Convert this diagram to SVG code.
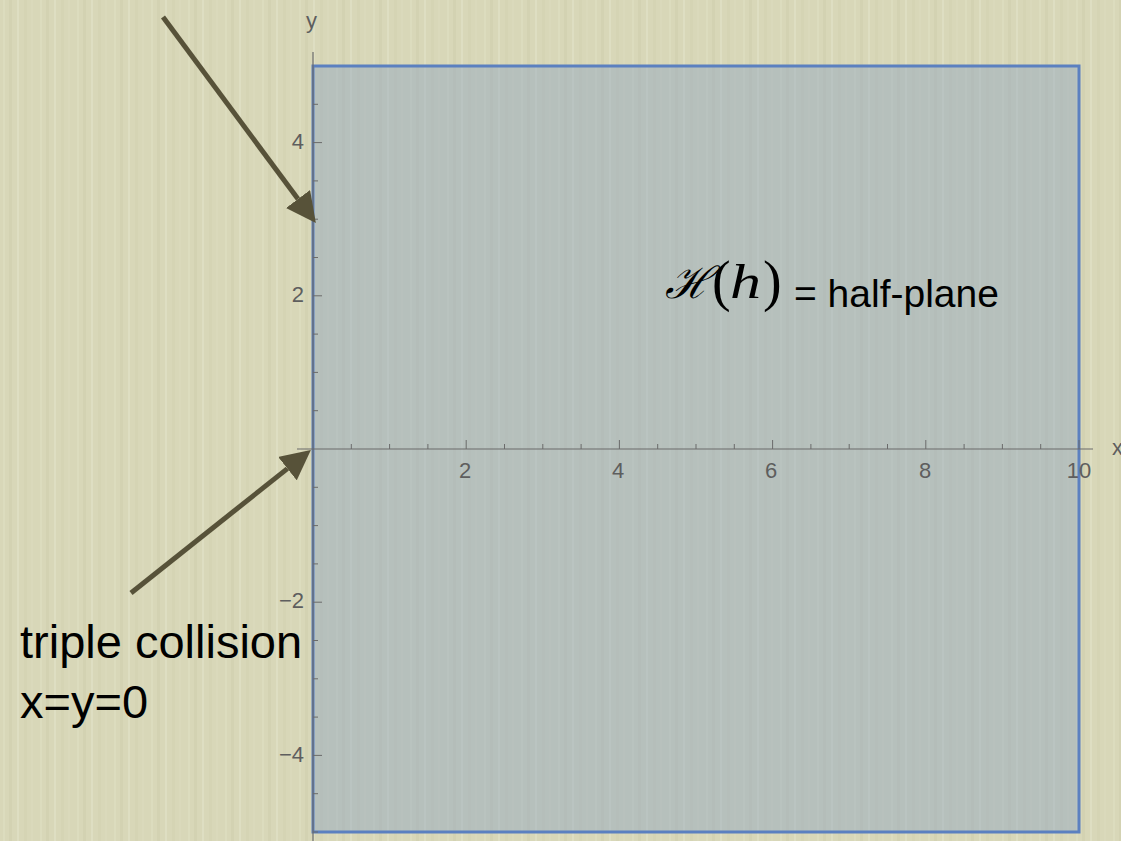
<svg xmlns="http://www.w3.org/2000/svg" width="1121" height="841" viewBox="0 0 1121 841">
<defs>
<pattern id="tex" x="0" y="0" width="37" height="841" patternUnits="userSpaceOnUse">
<rect width="37" height="841" fill="#d8d7b8"/>
<rect x="3" width="2" height="841" fill="#dcdcbe"/>
<rect x="9" width="3" height="841" fill="#d3d2b2"/>
<rect x="17" width="2" height="841" fill="#dedec2"/>
<rect x="24" width="3" height="841" fill="#d5d4b4"/>
<rect x="31" width="2" height="841" fill="#dad9bb"/>
</pattern>
<marker id="ah" markerUnits="userSpaceOnUse" markerWidth="30" markerHeight="30" refX="0" refY="13" orient="auto" viewBox="0 0 26 26">
<path d="M0,0 L26,13 L0,26 Z" fill="#575239"/>
</marker>
<style>
.tick{stroke:#6b6b6b;stroke-width:1;fill:none}
.axis{stroke:#6b6b6b;stroke-width:1.2;fill:none}
.tl{font-family:"Liberation Sans",Arial,sans-serif;font-size:22px;fill:#5e5e5e}
.lab{font-family:"Liberation Sans",Arial,sans-serif;fill:#000}
.m{font-family:"Liberation Serif","Times New Roman",serif;fill:#000}
.arr{stroke:#575239;stroke-width:5;fill:none;marker-end:url(#ah)}
</style>
</defs>
<rect width="1121" height="841" fill="url(#tex)"/>
<g id="half-plane">
<rect x="313" y="66" width="766" height="766" fill="#8ea3c0" fill-opacity="0.45" stroke="#5b80c0" stroke-width="3"/>
</g>
<g id="axes">
<line class="axis" x1="297" y1="449" x2="1093" y2="449"/>
<line class="axis" x1="313" y1="52" x2="313" y2="841"/>
<path class="tick" d="M351.3,449v-5M389.6,449v-5M427.9,449v-5M466.2,449v-9M504.5,449v-5M542.8,449v-5M581.1,449v-5M619.4,449v-9M657.7,449v-5M696,449v-5M734.3,449v-5M772.6,449v-9M810.9,449v-5M849.2,449v-5M887.5,449v-5M925.8,449v-9M964.1,449v-5M1002.4,449v-5M1040.7,449v-5M1079,449v-9"/>
<path class="tick" d="M313,104.3h5M313,142.6h9M313,180.9h5M313,219.2h5M313,257.5h5M313,295.8h9M313,334.1h5M313,372.4h5M313,410.7h5M313,487.3h5M313,525.6h5M313,563.9h5M313,602.2h9M313,640.5h5M313,678.8h5M313,717.1h5M313,755.4h9M313,793.7h5M313,832h5"/>
<text class="tl" x="465" y="478" text-anchor="middle">2</text>
<text class="tl" x="618" y="478" text-anchor="middle">4</text>
<text class="tl" x="771" y="478" text-anchor="middle">6</text>
<text class="tl" x="925" y="478" text-anchor="middle">8</text>
<text class="tl" x="1079" y="478" text-anchor="middle">10</text>
<text class="tl" x="1112" y="455">x</text>
<text class="tl" x="304" y="149" text-anchor="end">4</text>
<text class="tl" x="304" y="302" text-anchor="end">2</text>
<text class="tl" x="304" y="608" text-anchor="end">−2</text>
<text class="tl" x="304" y="762" text-anchor="end">−4</text>
<text class="tl" x="306" y="28">y</text>
</g>
<g id="connectors">
<line class="arr" x1="163" y1="17" x2="298" y2="199"/>
<line class="arr" x1="131" y1="593" x2="287.4" y2="468.6"/>
</g>
<g id="label-H">
<text x="665" y="298" font-size="44" font-family="DejaVu Serif" fill="#000" font-style="italic">ℋ</text>
<text class="m" x="712" y="300" font-size="56">(</text>
<text class="m" x="730" y="298" font-size="48" font-style="italic" textLength="31" lengthAdjust="spacingAndGlyphs">h</text>
<text class="m" x="763" y="300" font-size="56">)</text>
<text class="lab" x="794" y="307" font-size="39">= half-plane</text>
</g>
<g id="label-collision">
<text class="lab" x="20" y="658" font-size="47">triple collision</text>
<text class="lab" x="20" y="718" font-size="47">x=y=0</text>
</g>
</svg>
